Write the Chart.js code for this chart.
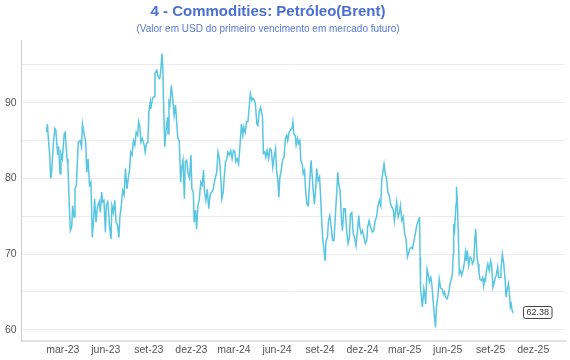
<!DOCTYPE html>
<html>
<head>
<meta charset="utf-8">
<script src="https://cdn.jsdelivr.net/npm/chart.js@4.4.1/dist/chart.umd.min.js"></script>
<style>
  html, body { margin: 0; padding: 0; background: #fff; }
  #chart { display: block; }
</style>
</head>
<body>
<canvas id="chart" width="570" height="360"></canvas>
<script>
// Brent, first futures contract (USD)
const dates = [
  '2023-01-25','2023-01-27','2023-01-29','2023-02-01','2023-02-03','2023-02-05','2023-02-09','2023-02-12','2023-02-14','2023-02-18',
  '2023-02-20','2023-02-23','2023-02-25','2023-02-28','2023-03-04','2023-03-06','2023-03-10','2023-03-12','2023-03-15','2023-03-17',
  '2023-03-20','2023-03-22','2023-03-25','2023-03-27','2023-03-30','2023-04-03','2023-04-07','2023-04-10','2023-04-12','2023-04-16',
  '2023-04-19','2023-04-21','2023-04-24','2023-04-27','2023-04-30','2023-05-01','2023-05-03','2023-05-06','2023-05-08','2023-05-11',
  '2023-05-14','2023-05-18','2023-05-20','2023-05-23','2023-05-25','2023-05-28','2023-05-31','2023-06-02','2023-06-05','2023-06-07',
  '2023-06-09','2023-06-12','2023-06-14','2023-06-17','2023-06-20','2023-06-23','2023-06-26','2023-06-29','2023-07-01','2023-07-04',
  '2023-07-07','2023-07-10','2023-07-13','2023-07-16','2023-07-19','2023-07-22','2023-07-24','2023-07-27','2023-07-30','2023-08-02',
  '2023-08-05','2023-08-08','2023-08-10','2023-08-13','2023-08-15','2023-08-18','2023-08-22','2023-08-24','2023-08-27','2023-08-30',
  '2023-09-01','2023-09-04','2023-09-05','2023-09-09','2023-09-12','2023-09-14','2023-09-18','2023-09-21','2023-09-24','2023-09-26',
  '2023-09-29','2023-10-01','2023-10-02','2023-10-05','2023-10-08','2023-10-11','2023-10-12','2023-10-14','2023-10-16','2023-10-19',
  '2023-10-22','2023-10-25','2023-10-28','2023-10-31','2023-11-02','2023-11-05','2023-11-08','2023-11-10','2023-11-13','2023-11-16',
  '2023-11-18','2023-11-21','2023-11-24','2023-11-27','2023-11-30','2023-12-02','2023-12-05','2023-12-07','2023-12-10','2023-12-12',
  '2023-12-15','2023-12-18','2023-12-21','2023-12-24','2023-12-27','2023-12-29','2024-01-01','2024-01-04','2024-01-07','2024-01-10',
  '2024-01-13','2024-01-16','2024-01-18','2024-01-21','2024-01-24','2024-01-27','2024-01-30','2024-02-02','2024-02-04','2024-02-07',
  '2024-02-09','2024-02-12','2024-02-14','2024-02-17','2024-02-20','2024-02-23','2024-02-26','2024-02-29','2024-03-03','2024-03-05',
  '2024-03-08','2024-03-11','2024-03-14','2024-03-17','2024-03-20','2024-03-22','2024-03-25','2024-03-28','2024-03-31','2024-04-03',
  '2024-04-05','2024-04-08','2024-04-11','2024-04-14','2024-04-16','2024-04-19','2024-04-21','2024-04-24','2024-04-27','2024-05-01',
  '2024-05-03','2024-05-06','2024-05-08','2024-05-11','2024-05-14','2024-05-17','2024-05-20','2024-05-23','2024-05-26','2024-05-29',
  '2024-05-31','2024-06-03','2024-06-05','2024-06-07','2024-06-10','2024-06-13','2024-06-16','2024-06-19','2024-06-22','2024-06-24',
  '2024-06-27','2024-06-30','2024-07-03','2024-07-05','2024-07-07','2024-07-10','2024-07-12','2024-07-15','2024-07-17','2024-07-20',
  '2024-07-22','2024-07-25','2024-07-27','2024-07-30','2024-08-01','2024-08-04','2024-08-07','2024-08-10','2024-08-13','2024-08-16',
  '2024-08-18','2024-08-20','2024-08-23','2024-08-25','2024-08-28','2024-08-31','2024-09-02','2024-09-04','2024-09-07','2024-09-09',
  '2024-09-12','2024-09-14','2024-09-17','2024-09-19','2024-09-22','2024-09-25','2024-09-28','2024-10-01','2024-10-04','2024-10-07',
  '2024-10-09','2024-10-11','2024-10-14','2024-10-17','2024-10-19','2024-10-22','2024-10-25','2024-10-28','2024-10-31','2024-11-03',
  '2024-11-05','2024-11-08','2024-11-11','2024-11-14','2024-11-17','2024-11-20','2024-11-23','2024-11-25','2024-11-28','2024-12-01',
  '2024-12-04','2024-12-07','2024-12-10','2024-12-12','2024-12-15','2024-12-18','2024-12-22','2024-12-25','2024-12-28','2024-12-31',
  '2025-01-03','2025-01-06','2025-01-09','2025-01-11','2025-01-14','2025-01-16','2025-01-19','2025-01-21','2025-01-24','2025-01-27',
  '2025-01-30','2025-02-02','2025-02-05','2025-02-07','2025-02-09','2025-02-12','2025-02-15','2025-02-18','2025-02-20','2025-02-23',
  '2025-02-26','2025-03-01','2025-03-04','2025-03-07','2025-03-09','2025-03-12','2025-03-15','2025-03-18','2025-03-21','2025-03-24',
  '2025-03-27','2025-03-29','2025-04-01','2025-04-02','2025-04-03','2025-04-04','2025-04-08','2025-04-11','2025-04-13','2025-04-15',
  '2025-04-18','2025-04-21','2025-04-23','2025-04-26','2025-04-28','2025-05-01','2025-05-04','2025-05-06','2025-05-08','2025-05-11',
  '2025-05-14','2025-05-17','2025-05-20','2025-05-23','2025-05-25','2025-05-28','2025-05-31','2025-06-03','2025-06-06','2025-06-09',
  '2025-06-11','2025-06-13','2025-06-14','2025-06-16','2025-06-19','2025-06-20','2025-06-22','2025-06-24','2025-06-26','2025-06-29',
  '2025-07-01','2025-07-04','2025-07-07','2025-07-09','2025-07-11','2025-07-13','2025-07-16','2025-07-19','2025-07-22','2025-07-24',
  '2025-07-27','2025-07-29','2025-07-31','2025-08-03','2025-08-05','2025-08-07','2025-08-09','2025-08-12','2025-08-15','2025-08-17',
  '2025-08-19','2025-08-21','2025-08-23','2025-08-26','2025-08-29','2025-09-01','2025-09-03','2025-09-06','2025-09-08','2025-09-11',
  '2025-09-13','2025-09-16','2025-09-18','2025-09-21','2025-09-23','2025-09-26','2025-09-29','2025-10-02','2025-10-04','2025-10-06',
  '2025-10-09','2025-10-11','2025-10-13','2025-10-15','2025-10-17','2025-10-18'
];
const brent = [
  86.1, 87.2, 85.3, 83.1, 80.0, 80.8, 84.8, 86.6, 86.4, 83.1,
  84.2, 80.6, 83.3, 82.6, 85.9, 86.1, 82.6, 81.7, 76.0, 73.1,
  73.6, 76.4, 74.9, 78.6, 79.1, 84.8, 85.0, 84.2, 87.2, 85.7,
  84.8, 80.8, 82.6, 79.1, 79.5, 77.3, 72.2, 74.7, 77.3, 74.2,
  76.2, 76.9, 75.5, 78.2, 76.9, 77.1, 72.9, 76.4, 76.9, 75.5,
  73.6, 72.0, 76.4, 75.5, 77.1, 74.2, 73.8, 72.2, 74.9, 76.4,
  78.4, 77.8, 81.3, 78.6, 80.0, 81.3, 83.5, 83.1, 85.0, 84.4,
  86.1, 85.7, 87.5, 86.8, 84.8, 85.3, 84.4, 83.5, 84.6, 84.8,
  88.8, 90.1, 89.2, 90.6, 90.8, 93.9, 94.3, 93.4, 93.2, 93.9,
  96.5, 94.5, 91.0, 84.2, 86.6, 88.1, 85.9, 90.1, 89.7, 92.3,
  90.6, 88.3, 89.7, 87.0, 85.3, 85.0, 79.5, 81.3, 82.4, 77.3,
  82.2, 82.4, 80.6, 80.0, 83.1, 78.6, 78.2, 74.2, 75.8, 73.3,
  76.4, 77.3, 79.5, 79.1, 81.1, 78.2, 77.1, 78.6, 76.0, 77.8,
  78.2, 78.4, 79.1, 80.0, 80.8, 83.5, 82.6, 80.0, 77.3, 78.2,
  80.0, 82.2, 82.4, 83.5, 83.1, 83.7, 82.6, 83.7, 83.5, 82.2,
  82.6, 81.9, 84.4, 87.2, 85.7, 86.8, 86.1, 87.5, 87.5, 89.7,
  91.2, 90.3, 90.6, 90.3, 89.7, 87.2, 87.0, 88.8, 89.4, 88.1,
  83.3, 83.5, 82.8, 83.7, 82.6, 83.9, 83.7, 81.5, 82.8, 83.9,
  81.1, 79.7, 77.5, 80.0, 81.1, 82.4, 82.8, 85.3, 85.7, 85.0,
  86.1, 86.4, 86.6, 87.5, 85.9, 85.7, 84.4, 85.3, 84.6, 85.0,
  82.4, 81.9, 80.6, 81.1, 78.6, 76.6, 76.4, 79.7, 82.4, 79.7,
  78.0, 76.6, 78.9, 81.3, 79.7, 80.2, 78.0, 75.3, 71.8, 70.9,
  69.1, 71.8, 72.2, 74.4, 75.1, 73.6, 71.8, 71.8, 75.3, 78.4,
  80.8, 79.3, 78.4, 74.4, 73.1, 76.0, 76.0, 73.1, 71.4, 72.2,
  75.3, 75.5, 72.7, 72.2, 71.1, 73.1, 75.1, 73.6, 72.7, 73.1,
  72.2, 71.4, 71.8, 73.6, 74.4, 73.6, 72.9, 73.1, 74.4, 74.9,
  76.4, 77.1, 76.4, 79.7, 81.1, 81.9, 80.4, 80.2, 78.2, 77.8,
  76.6, 76.2, 75.8, 74.4, 75.3, 76.9, 74.9, 75.5, 76.4, 74.4,
  74.9, 72.7, 72.0, 69.6, 70.0, 70.7, 70.9, 70.7, 71.8, 72.7,
  73.8, 74.2, 74.7, 74.9, 69.6, 65.6, 63.0, 65.4, 64.7, 63.4,
  68.0, 67.2, 66.3, 66.9, 66.1, 63.8, 61.6, 60.3, 63.0, 64.3,
  66.7, 65.5, 65.4, 64.7, 65.0, 64.3, 64.1, 64.8, 66.0, 66.7,
  67.2, 70.0, 74.0, 73.3, 76.6, 78.9, 76.6, 72.2, 67.4, 67.8,
  67.2, 67.8, 68.9, 70.2, 69.1, 70.5, 68.5, 69.6, 69.4, 68.7,
  69.1, 71.8, 73.3, 69.6, 68.7, 67.6, 66.7, 66.5, 66.9, 65.8,
  66.7, 66.5, 67.8, 68.7, 67.8, 69.1, 68.5, 65.6, 66.1, 66.9,
  67.2, 68.3, 66.9, 66.9, 67.8, 70.0, 68.7, 66.5, 64.3, 65.2,
  66.1, 65.0, 63.0, 63.4, 62.5, 62.38
];

// x axis: month ticks and visible range
const tickDates = ['2023-03-01', '2023-06-01', '2023-09-01', '2023-12-01', '2024-03-01', '2024-06-01',
                   '2024-09-01', '2024-12-01', '2025-03-01', '2025-06-01', '2025-09-01', '2025-12-01'];
const tickLabels = ['mar-23', 'jun-23', 'set-23', 'dez-23', 'mar-24', 'jun-24',
                    'set-24', 'dez-24', 'mar-25', 'jun-25', 'set-25', 'dez-25'];
const xRange = ['2022-12-03', '2026-02-07'];

// y axis
const yTicks = [60, 65, 70, 75, 80, 85, 90, 95];
const yRange = [58.45, 98.3];

const titleText = '4 - Commodities: Petróleo(Brent)';
const subtitleText = '(Valor em USD do primeiro vencimento em mercado futuro)';

const FONT = "'Liberation Sans', Arial, Helvetica, sans-serif";
const lineColor = '#58c6e0';

// Title block, centred a bit left of the canvas middle as in the original
const titleBlock = {
    id: 'titleBlock',
    afterDraw(chart) {
        const ctx = chart.ctx;
        const cx = 268;
        ctx.save();
        ctx.textAlign = 'center';
        ctx.textBaseline = 'middle';
        ctx.fillStyle = '#4a6fd1';
        ctx.font = 'bold 15px ' + FONT;
        ctx.fillText(titleText, cx, 12);
        ctx.fillStyle = '#5878d4';
        ctx.font = '10px ' + FONT;
        ctx.fillText(subtitleText, cx, 29.5);
        ctx.restore();
    }
};

// Boxed label with the last value, right of the last point
const lastValueLabel = {
    id: 'lastValueLabel',
    afterDatasetsDraw(chart) {
        const pts = chart.getDatasetMeta(0).data;
        const pt = pts[pts.length - 1];
        const text = brent[brent.length - 1].toFixed(2);
        const ctx = chart.ctx;
        ctx.save();
        ctx.font = '9px ' + FONT;
        const w = ctx.measureText(text).width + 6;
        const h = 12;
        const x = Math.round(pt.x + 10);
        const y = Math.round(pt.y - h / 2);
        ctx.beginPath();
        ctx.roundRect(x + 0.5, y + 0.5, w, h, 2);
        ctx.fillStyle = '#fff';
        ctx.fill();
        ctx.strokeStyle = '#444';
        ctx.lineWidth = 1;
        ctx.stroke();
        ctx.fillStyle = '#333';
        ctx.textAlign = 'center';
        ctx.textBaseline = 'middle';
        ctx.fillText(text, x + 0.5 + w / 2, y + h / 2 + 1);
        ctx.restore();
    }
};

new Chart(document.getElementById('chart'), {
    type: 'line',
    data: {
        datasets: [{
            data: dates.map((d, i) => ({ x: Date.parse(d), y: brent[i] })),
            borderColor: lineColor,
            borderWidth: 1.5,
            pointRadius: 0,
            tension: 0,
            fill: false
        }]
    },
    options: {
        responsive: false,
        animation: false,
        layout: { padding: { left: 0, right: 5, top: 40, bottom: 2 } },
        plugins: {
            legend: { display: false },
            tooltip: { enabled: false },
            title: { display: false },
            subtitle: { display: false }
        },
        scales: {
            x: {
                type: 'linear',
                min: Date.parse(xRange[0]),
                max: Date.parse(xRange[1]),
                afterBuildTicks: axis => {
                    axis.ticks = tickDates.map(d => ({ value: Date.parse(d) }));
                },
                ticks: {
                    autoSkip: false,
                    maxRotation: 0,
                    padding: 2,
                    color: '#555',
                    font: { family: FONT, size: 10.5 },
                    callback: (v, i) => tickLabels[i]
                },
                grid: { display: false, drawTicks: false },
                border: { display: true, color: '#e2e2e2', width: 2 }
            },
            y: {
                min: yRange[0],
                max: yRange[1],
                afterBuildTicks: axis => {
                    axis.ticks = yTicks.map(v => ({ value: v }));
                },
                ticks: {
                    padding: 5,
                    color: '#555',
                    font: { family: FONT, size: 10.5 },
                    callback: v => (v % 10 === 0 ? String(v) : '')
                },
                grid: { color: '#ececec', lineWidth: 1, drawTicks: false },
                border: { display: true, color: '#cccccc', width: 1 }
            }
        }
    },
    plugins: [titleBlock, lastValueLabel]
});
</script>
</body>
</html>
